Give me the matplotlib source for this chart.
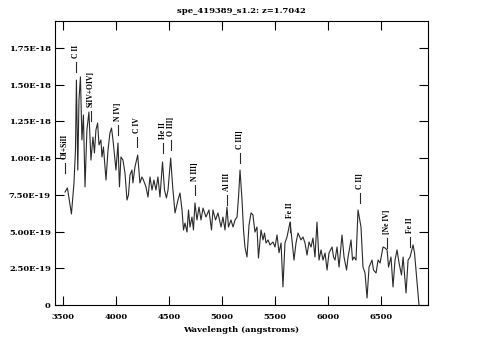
import matplotlib
matplotlib.use("Agg")
import matplotlib.pyplot as plt
from matplotlib.ticker import FuncFormatter, MultipleLocator

# Spectrum (wavelength in angstroms, flux in units of 1e-19)
wavelength = [3519, 3542, 3580, 3604, 3618, 3627, 3640, 3651, 3665, 3679, 3693, 3708, 3726, 3745,
              3764, 3783, 3797, 3811, 3827, 3840, 3858, 3868, 3882, 3906, 3925, 3943, 3958, 3972,
              4000, 4019, 4033, 4047, 4066, 4085, 4104, 4118, 4132, 4151, 4160, 4179, 4205, 4226,
              4245, 4259, 4283, 4302, 4321, 4340, 4358, 4377, 4396, 4415, 4439, 4458, 4476, 4491,
              4516, 4535, 4557, 4585, 4604, 4623, 4637, 4651, 4670, 4684, 4698, 4717, 4731, 4745,
              4764, 4783, 4802, 4821, 4849, 4877, 4901, 4915, 4939, 4962, 4991, 5009, 5028, 5047,
              5061, 5085, 5104, 5123, 5142, 5156, 5170, 5189, 5203, 5217, 5236, 5255, 5274, 5292,
              5311, 5330, 5344, 5368, 5387, 5401, 5415, 5434, 5453, 5481, 5500, 5519, 5538, 5557,
              5575, 5594, 5613, 5642, 5660, 5679, 5698, 5717, 5745, 5764, 5783, 5802, 5821, 5840,
              5858, 5877, 5896, 5915, 5934, 5953, 5972, 5991, 6009, 6038, 6052, 6066, 6085, 6104,
              6132, 6151, 6175, 6189, 6217, 6231, 6245, 6264, 6283, 6311, 6330, 6349, 6368, 6387,
              6415, 6429, 6453, 6472, 6491, 6519, 6538, 6557, 6571, 6594, 6613, 6632, 6651, 6670,
              6693, 6708, 6736, 6755, 6774, 6802, 6816, 6830, 6844, 6858]
flux = [7.69, 7.97, 6.20, 8.31, 10.55, 15.32, 9.19, 13.96, 15.53, 11.24, 12.94, 8.04, 11.92, 13.14,
        9.87, 11.44, 10.35, 11.92, 12.39, 10.90, 11.24, 10.08, 10.76, 8.51, 10.55, 11.71, 12.05, 11.24,
        9.19, 11.03, 8.04, 10.08, 9.87, 8.99, 7.15, 7.49, 8.85, 9.19, 8.31, 9.40, 10.21, 8.31,
        8.72, 8.51, 8.04, 7.35, 8.72, 7.83, 8.51, 7.83, 8.72, 7.35, 9.74, 7.83, 7.29, 7.83,
        10.01, 8.04, 6.27, 7.15, 7.63, 6.47, 5.11, 5.58, 4.97, 6.47, 5.31, 5.99, 5.11, 6.95,
        5.79, 6.67, 5.79, 6.60, 5.99, 6.47, 5.11, 6.47, 5.79, 6.27, 5.31, 5.99, 5.11, 6.67,
        5.31, 5.79, 5.31, 5.79, 5.99, 7.35, 9.19, 7.15, 5.11, 3.92, 3.27, 5.45, 6.27, 6.13,
        4.97, 5.31, 3.20, 5.11, 4.43, 4.90, 4.22, 4.43, 4.09, 4.29, 3.95, 4.77, 3.56, 4.22,
        1.23, 4.22, 4.63, 5.65, 4.43, 3.06, 4.22, 4.90, 4.43, 4.63, 4.22, 3.40, 4.29, 3.95,
        4.56, 3.27, 5.65, 3.06, 3.75, 3.06, 3.54, 2.38, 3.54, 3.95, 3.27, 3.06, 3.95, 2.58,
        4.77, 3.27, 2.38, 3.27, 4.43, 3.06, 3.27, 3.06, 6.47, 5.31, 2.58, 2.18, 0.48, 2.58,
        3.06, 2.38, 2.18, 3.06, 2.86, 3.95, 3.88, 3.75, 2.58, 3.27, 1.23, 3.06, 3.75, 2.86,
        2.04, 3.27, 0.82, 3.06, 3.27, 4.09, 3.54, 2.38, 1.23, 0.0]

# Emission line identifications
line_names = ["OI+SiII", "C II", "SiIV+OIV]", "N IV]", "C IV", "He II", "O III]", "N III]",
              "Al III", "C III]", "Fe II", "C II]", "[Ne IV]", "Fe II"]
line_wave = [3515, 3623, 3765, 4019, 4200, 4440, 4516, 4745, 5047, 5170, 5642, 6302, 6557, 6774]
label_base = [8.99, 15.87, 12.5, 11.58, 10.76, 10.35, 10.55, 7.49, 6.81, 9.67, 4.97, 6.95, 3.88, 3.95]

title = "spe_419389_s1.2: z=1.7042"
xlabel = "Wavelength (angstroms)"
xticks = [3500, 4000, 4500, 5000, 5500, 6000, 6500]

scale = 1e-19
font = "DejaVu Serif"
label_font = "Liberation Serif"

fig = plt.figure(figsize=(4.83, 3.58), dpi=100)
ax = fig.add_axes([55 / 483, 53 / 358, 373 / 483, 284 / 358])

ax.plot(wavelength, [f * scale for f in flux], color="#2a2a2a", lw=0.8)

tick_len = 0.68
for name, w, b in zip(line_names, line_wave, label_base):
    ax.plot([w, w], [b * scale, (b + tick_len) * scale], color="#2a2a2a", lw=0.8)
    ax.annotate(name, xy=(w, (b + tick_len) * scale), xytext=(0, 3), textcoords="offset points",
                rotation=90, ha="center", va="bottom", fontsize=5.5, fontweight="bold",
                family=label_font)

ax.set_xlim(3425, 6943)
ax.set_ylim(0, 1.934e-18)
ax.set_xticks(xticks)
ax.yaxis.set_major_locator(MultipleLocator(2.5e-19))
ax.yaxis.set_major_formatter(FuncFormatter(lambda v, p: "0" if abs(v) < 1e-30 else f"{v:.2E}"))
ax.tick_params(direction="in", length=6.5, width=0.8, top=True, right=True,
               labelsize=6, colors="black")
ax.tick_params(axis="x", pad=6)
ax.tick_params(axis="y", pad=3)
for lab in ax.get_xticklabels() + ax.get_yticklabels():
    lab.set_fontfamily(font)
    lab.set_fontweight("bold")
for s in ax.spines.values():
    s.set_linewidth(0.8)

ax.set_xlabel(xlabel, fontsize=6, fontweight="bold", family=font, labelpad=3)
fig.text(241 / 483, 1 - 11 / 358, title, ha="center", va="center", fontsize=6,
         fontweight="bold", family=font)

fig.savefig("out.png", dpi=100)
